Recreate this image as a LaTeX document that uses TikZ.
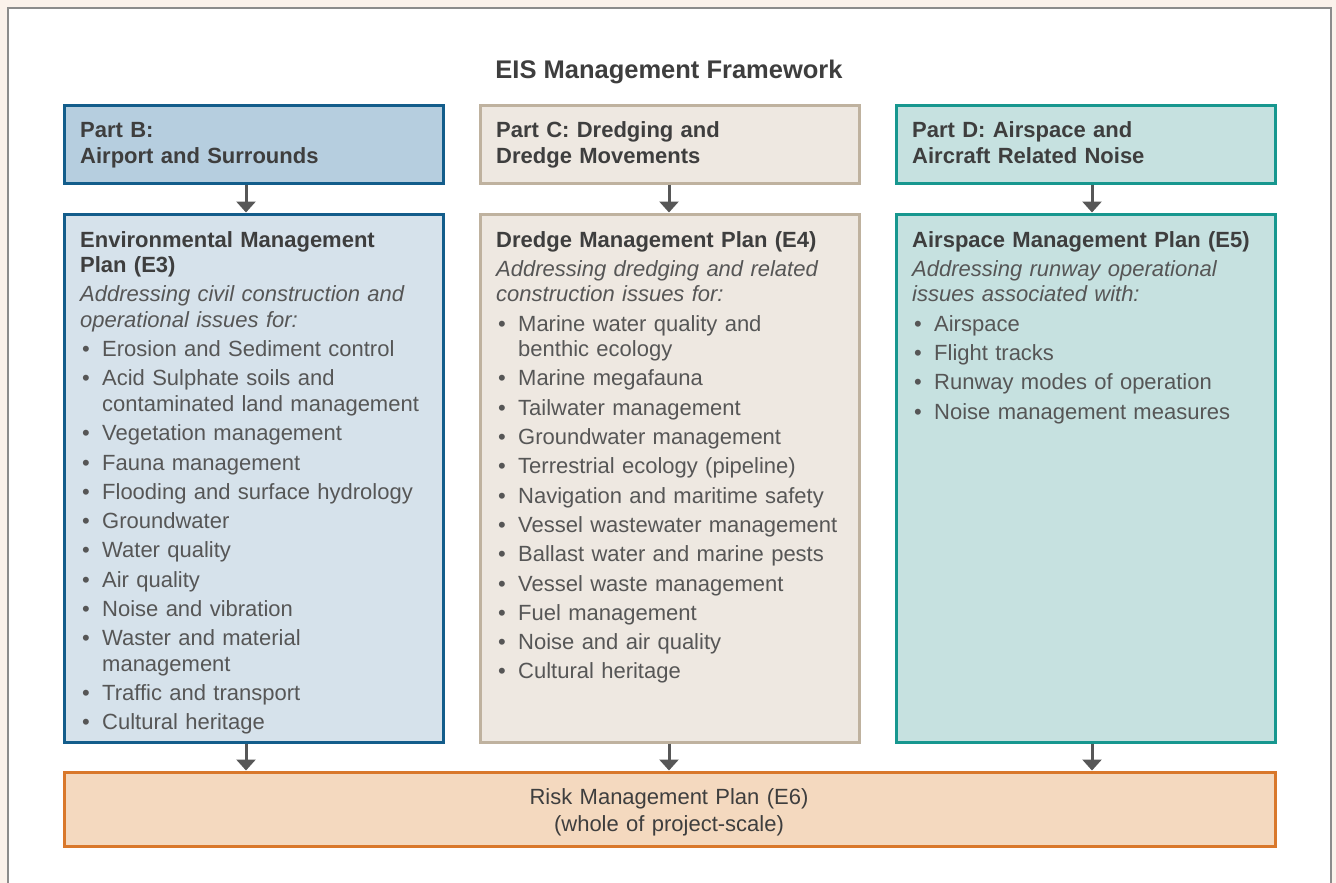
\documentclass[tikz,border=0pt]{standalone}
\usepackage{fontspec}
\setmainfont{Liberation Sans}
\usepackage{tikz}
\usetikzlibrary{arrows.meta, positioning}
\definecolor{bgCream}{HTML}{FBF2EB}
\definecolor{panelGray}{HTML}{8C8C8C}
\definecolor{blueLine}{HTML}{135D8B}
\definecolor{blueTop}{HTML}{B6CEDF}
\definecolor{blueFill}{HTML}{D6E2EB}
\definecolor{tanLine}{HTML}{BFB29F}
\definecolor{tanFill}{HTML}{EEE8E1}
\definecolor{tealLine}{HTML}{17978F}
\definecolor{tealFill}{HTML}{C6E1E0}
\definecolor{orangeLine}{HTML}{D9782B}
\definecolor{orangeFill}{HTML}{F4D9BF}
\definecolor{arrowGray}{HTML}{575757}
\definecolor{headGray}{HTML}{3E3E3E}
\definecolor{textGray}{HTML}{565656}

\newcommand{\hd}[1]{{\bfseries\color{headGray}#1}}
\newcommand{\bitem}[1]{\par\hangindent=22pt\hangafter=1\makebox[22pt][l]{\hspace{2pt}\textbullet}#1}

\begin{document}
\begin{tikzpicture}[x=1pt, y=-1pt,
    box/.style={draw, line width=3pt, inner sep=0pt, minimum width=379pt},
    topbox/.style={box, minimum height=78pt},
    planbox/.style={box, minimum height=528pt},
    hdtext/.style={anchor=base west, inner sep=0pt, text width=360pt, align=left,
        font=\fontsize{22}{26}\selectfont\bfseries, text=headGray},
    listtext/.style={anchor=base west, inner sep=0pt, text width=360pt, align=left,
        font=\fontsize{22}{25.5}\selectfont, text=textGray,
        execute at begin node=\setlength{\parskip}{3.8pt}},
    arr/.style={-{Triangle[width=19pt,length=11pt]}, line width=3pt, arrowGray}]
    \useasboundingbox (0,0) rectangle (1336,883);

    % Background panel
    \fill[bgCream] (0,0) rectangle (1336,883);
    \filldraw[fill=white, draw=panelGray, line width=2pt] (8,884) -- (8,8) -- (1330.5,8) -- (1330.5,884);

    \node[font=\fontsize{25.5}{30}\selectfont\bfseries, text=headGray, anchor=base] (title) at (669,78) {EIS Management Framework};

    % Boxes
    \node[topbox, draw=blueLine, fill=blueTop] (partB) at (253.5,144) {};
    \node[topbox, draw=tanLine, fill=tanFill] (partC) at (669.5,144) {};
    \node[topbox, draw=tealLine, fill=tealFill] (partD) at (1085.5,144) {};
    \node[planbox, draw=blueLine, fill=blueFill] (envPlan) at (253.5,478) {};
    \node[planbox, draw=tanLine, fill=tanFill] (dredgePlan) at (669.5,478) {};
    \node[planbox, draw=tealLine, fill=tealFill] (airPlan) at (1085.5,478) {};
    \node[box, minimum width=1211pt, minimum height=74pt, draw=orangeLine, fill=orangeFill] (riskPlan) at (669.5,809) {};

    % Arrows
    \draw[arr] ([xshift=-7.5pt]partB.south) -- ([xshift=-7.5pt]envPlan.north);
    \draw[arr] ([xshift=-0.5pt]partC.south) -- ([xshift=-0.5pt]dredgePlan.north);
    \draw[arr] ([xshift=6.5pt]partD.south) -- ([xshift=6.5pt]airPlan.north);
    \draw[arr] ([xshift=-7.5pt]envPlan.south) -- ([xshift=-7.5pt]envPlan.south |- riskPlan.north);
    \draw[arr] ([xshift=-0.5pt]dredgePlan.south) -- ([xshift=-0.5pt]dredgePlan.south |- riskPlan.north);
    \draw[arr] ([xshift=6.5pt]airPlan.south) -- ([xshift=6.5pt]airPlan.south |- riskPlan.north);

    % Top texts
    \node[hdtext] (partBText) at (80,137) {Part B:\\ Airport and Surrounds};
    \node[hdtext] (partCText) at (496,137) {Part C: Dredging and\\ Dredge Movements};
    \node[hdtext] (partDText) at (912,137) {Part D: Airspace and\\ Aircraft Related Noise};

    % Plan texts
    \node[listtext] (envText) at (80,247) {\hd{Environmental Management\\ Plan (E3)}\par
        \textit{Addressing civil construction and\\ operational issues for:}
        \bitem{Erosion and Sediment control}
        \bitem{Acid Sulphate soils and\break contaminated land management}
        \bitem{Vegetation management}
        \bitem{Fauna management}
        \bitem{Flooding and surface hydrology}
        \bitem{Groundwater}
        \bitem{Water quality}
        \bitem{Air quality}
        \bitem{Noise and vibration}
        \bitem{Waster and material\break management}
        \bitem{Traffic and transport}
        \bitem{Cultural heritage}};
    \node[listtext] (dredgeText) at (496,247) {\hd{Dredge Management Plan (E4)}\par
        \textit{Addressing dredging and related\\ construction issues for:}
        \bitem{Marine water quality and\break benthic ecology}
        \bitem{Marine megafauna}
        \bitem{Tailwater management}
        \bitem{Groundwater management}
        \bitem{Terrestrial ecology (pipeline)}
        \bitem{Navigation and maritime safety}
        \bitem{Vessel wastewater management}
        \bitem{Ballast water and marine pests}
        \bitem{Vessel waste management}
        \bitem{Fuel management}
        \bitem{Noise and air quality}
        \bitem{Cultural heritage}};
    \node[listtext] (airText) at (912,247) {\hd{Airspace Management Plan (E5)}\par
        \textit{Addressing runway operational\\ issues associated with:}
        \bitem{Airspace}
        \bitem{Flight tracks}
        \bitem{Runway modes of operation}
        \bitem{Noise management measures}};

    \node[anchor=base, inner sep=0pt, text width=600pt, align=center,
        font=\fontsize{22}{27}\selectfont, text=headGray] (riskText) at (669,804)
        {Risk Management Plan (E6)\\ (whole of project-scale)};
\end{tikzpicture}
\end{document}
